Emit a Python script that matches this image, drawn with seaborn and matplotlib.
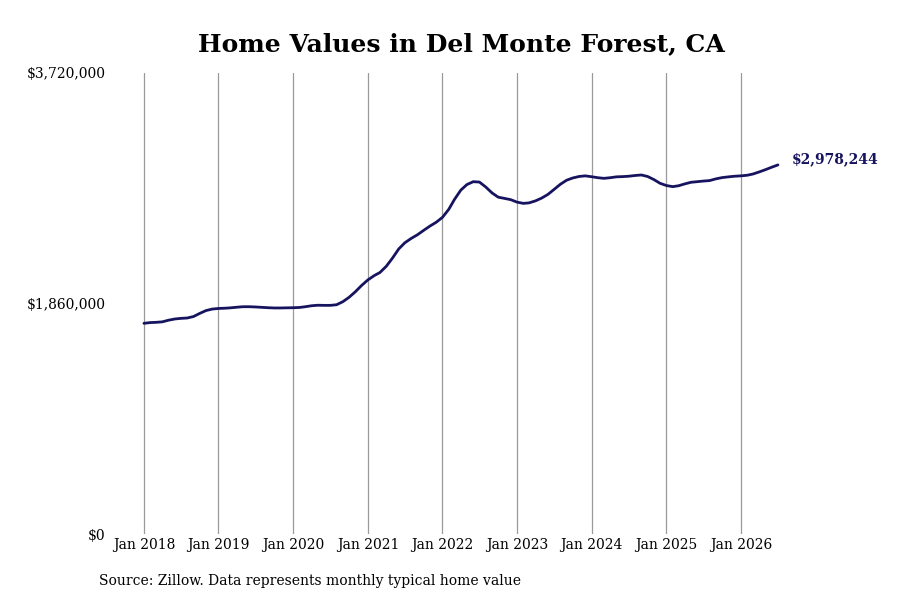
import pandas as pd
import numpy as np
import seaborn as sns
import matplotlib.pyplot as plt
import matplotlib.dates as mdates

# monthly typical home value, Jan 2018 - Jul 2026
values = [
    1700000, 1706000, 1708000, 1712000, 1725000, 1735000, 1740000, 1743000, 1755000, 1780000, 1803000, 1815000,
    1820000, 1822000, 1825000, 1830000, 1834000, 1834000, 1832000, 1829000, 1826000, 1824000, 1824000, 1825000,
    1826000, 1828000, 1834000, 1842000, 1846000, 1845000, 1845000, 1850000, 1875000, 1910000, 1955000, 2005000,
    2050000, 2085000, 2110000, 2160000, 2225000, 2300000, 2350000, 2385000, 2415000, 2450000, 2485000, 2515000,
    2555000, 2620000, 2700000, 2775000, 2820000, 2843000, 2840000, 2800000, 2752000, 2718000, 2708000, 2698000,
    2678000, 2668000, 2672000, 2688000, 2710000, 2740000, 2780000, 2822000, 2855000, 2873000, 2885000, 2890000,
    2883000, 2875000, 2870000, 2875000, 2882000, 2884000, 2887000, 2893000, 2897000, 2885000, 2860000, 2830000,
    2812000, 2803000, 2810000, 2825000, 2838000, 2843000, 2848000, 2852000, 2866000, 2876000, 2882000, 2887000,
    2890000, 2895000, 2905000, 2922000, 2940000, 2960000, 2978244,
]
dates = pd.date_range('2018-01-01', periods=len(values), freq='MS')
df = pd.DataFrame({'date': dates, 'value': values})

y_ticks = [0, 1860000, 3720000]
y_labels = ['$0', '$1,860,000', '$3,720,000']
x_ticks = pd.date_range('2018-01-01', '2026-01-01', freq='YS')

sns.set_style('white')
plt.rcParams['font.family'] = ['DejaVu Serif']
plt.rcParams['text.color'] = 'black'
plt.rcParams['xtick.color'] = 'black'
plt.rcParams['ytick.color'] = 'black'

fig = plt.figure(figsize=(9, 6), dpi=100)
ax = fig.add_axes([110 / 900, 66 / 600, 690 / 900, 461 / 600])

navy = '#16135f'
sns.lineplot(data=df, x='date', y='value', color=navy, linewidth=2, ax=ax)

ax.set_ylim(0, 3720000)
ax.set_xlim(mdates.date2num(pd.Timestamp('2018-01-01')) - 166,
            mdates.date2num(pd.Timestamp('2026-07-01')) + 108)
ax.set_yticks(y_ticks)
ax.set_yticklabels(y_labels, fontsize=10)
ax.set_xticks(x_ticks)
ax.set_xticklabels([d.strftime('Jan %Y') for d in x_ticks], fontsize=10)
ax.tick_params(axis='both', length=0, pad=3)
ax.xaxis.grid(True, color='#9a9a9a', linewidth=0.9)
ax.yaxis.grid(False)
for s in ax.spines.values():
    s.set_visible(False)
ax.set_xlabel('')
ax.set_ylabel('')

last = df.iloc[-1]
ax.annotate(f"${last['value']:,.0f}", (last['date'], last['value']),
            xytext=(10, 4), textcoords='offset points', va='center',
            fontsize=10, fontweight='bold', color=navy)

fig.text(461 / 900, 0.927, 'Home Values in Del Monte Forest, CA', ha='center', va='center',
         fontsize=18, fontweight='bold')
fig.text(99 / 900, 1 - 581 / 600, 'Source: Zillow. Data represents monthly typical home value',
         ha='left', va='center', fontsize=10)

fig.savefig('out.png', dpi=100)
